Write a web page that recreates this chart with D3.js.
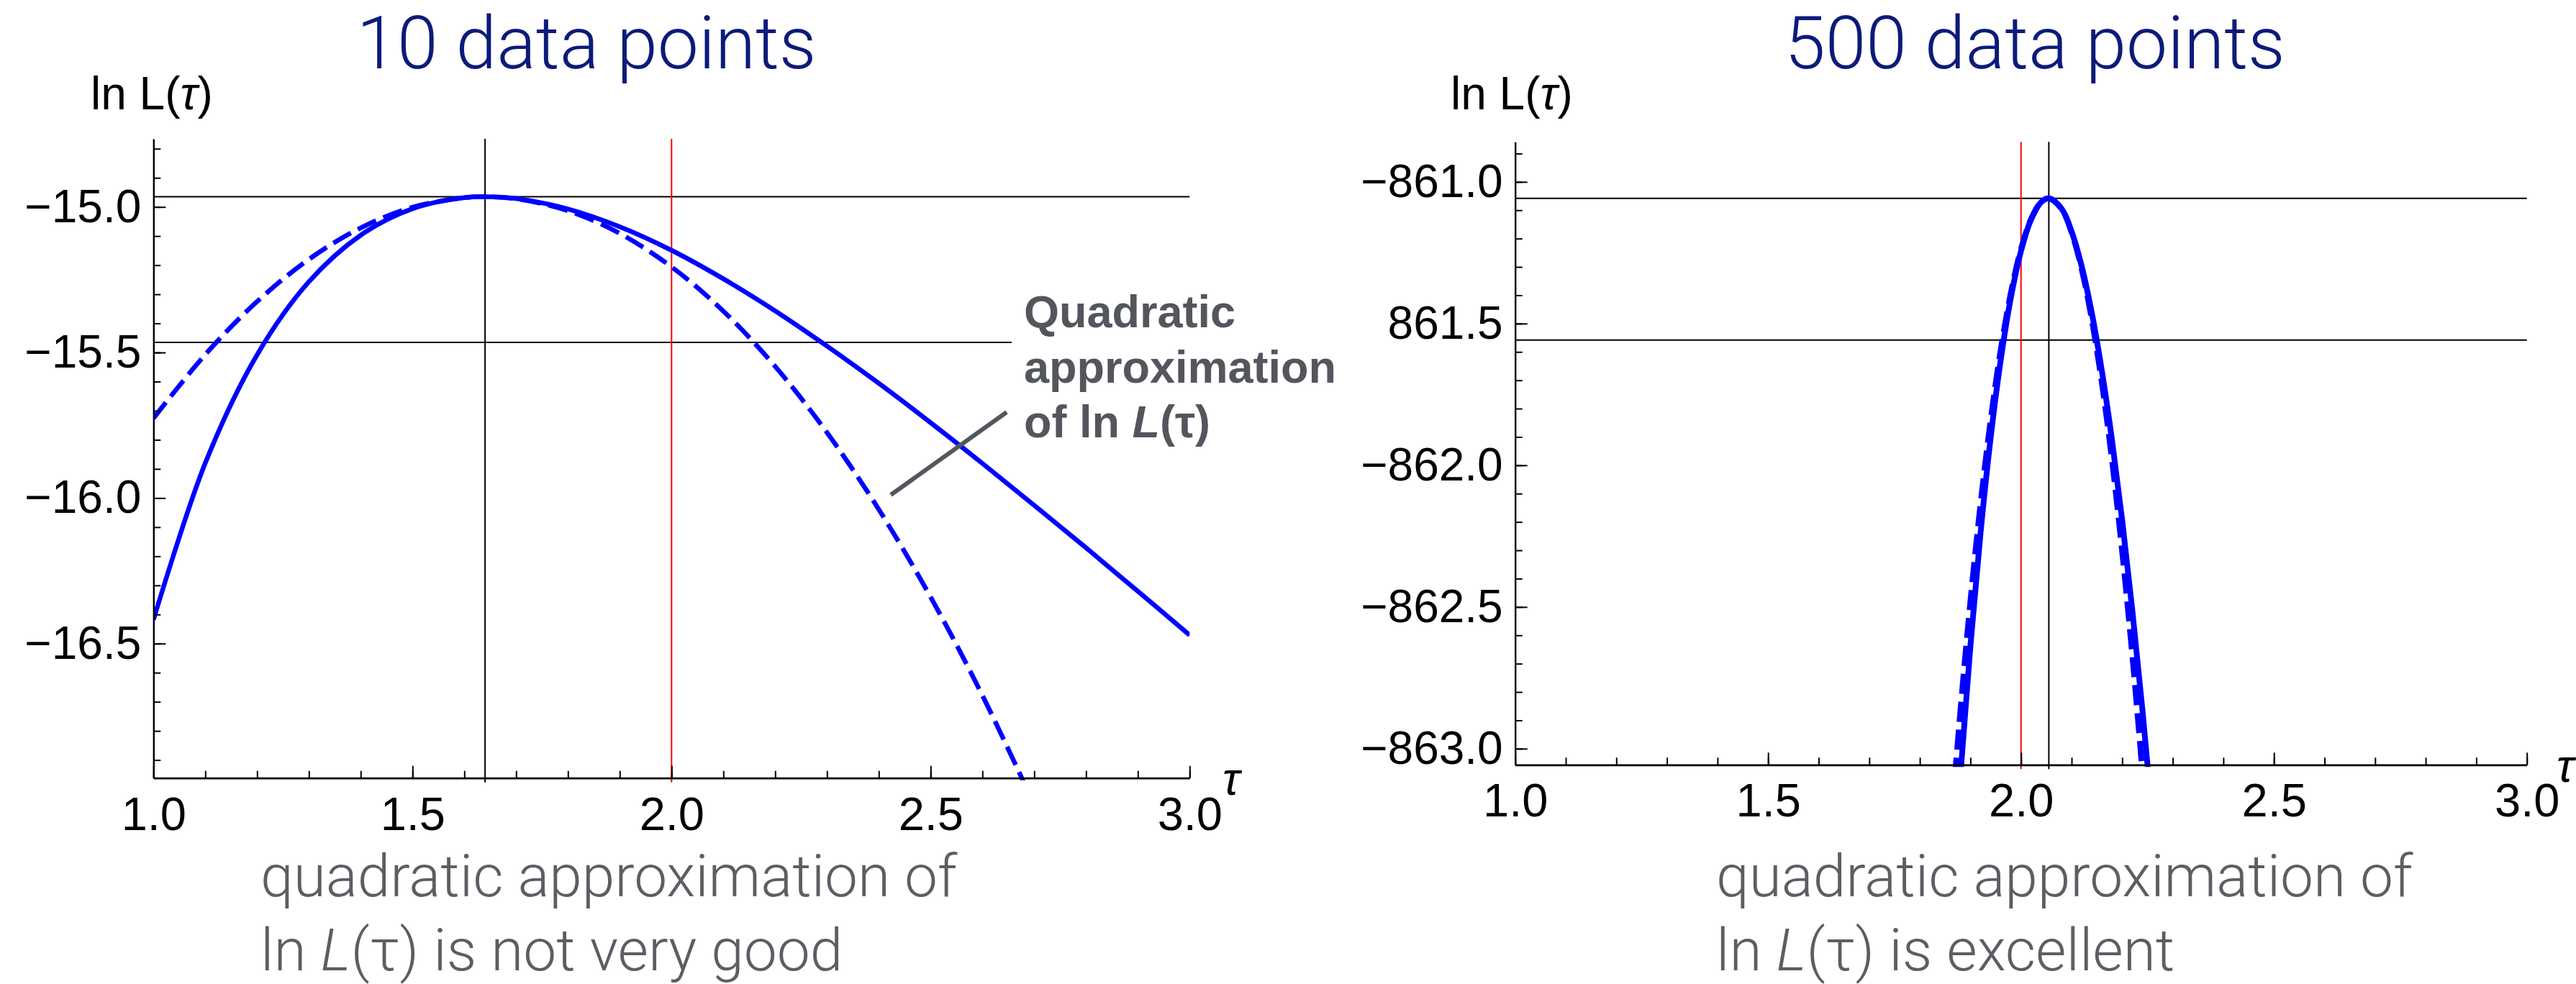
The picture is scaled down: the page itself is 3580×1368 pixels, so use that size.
<!DOCTYPE html>
<html>
<head>
<meta charset="utf-8">
<script src="https://d3js.org/d3.v7.min.js"></script>
<style>
  body { margin: 0; background: #fff; }
  .axis text { font-family: "Liberation Sans", Arial, sans-serif; font-size: 64px; fill: #000; }
  .axis path, .axis line { stroke: #000; }
  .title { font-family: Roboto, "Liberation Sans", sans-serif; font-weight: 300; font-size: 102px; fill: #0c1a7a; }
  .caption { font-family: Roboto, "Liberation Sans", sans-serif; font-weight: 300; font-size: 82px; fill: #5b5e63; }
  .ylab { font-family: "Liberation Sans", Arial, sans-serif; font-size: 64px; fill: #000; }
  .note { font-family: "Liberation Sans", Arial, sans-serif; font-weight: bold; font-size: 63px; fill: #53565c; }
</style>
</head>
<body>
<svg id="chart" width="3580" height="1368"></svg>
<script>
// ---- data ----
// 10 data points
const tau10 = [1.0, 1.1, 1.2, 1.3, 1.4, 1.5, 1.6, 1.64, 1.7, 1.8, 1.9, 2.0, 2.1, 2.2, 2.3, 2.4, 2.5, 2.6, 2.7, 2.8, 2.9, 3.0];
const lnL10 = [-16.418, -15.880, -15.508, -15.257, -15.097, -15.006, -14.968, -14.965, -14.971, -15.007, -15.068,
               -15.149, -15.247, -15.357, -15.478, -15.606, -15.741, -15.881, -16.025, -16.171, -16.320, -16.471];
const tauQ10 = [1.0, 1.1, 1.2, 1.3, 1.4, 1.5, 1.6, 1.64, 1.7, 1.8, 1.9, 2.0, 2.1, 2.2, 2.3, 2.4, 2.5, 2.6, 2.7];
const quad10 = [-15.726, -15.507, -15.325, -15.180, -15.072, -15.001, -14.968, -14.965, -14.972, -15.013,
                -15.091, -15.206, -15.358, -15.548, -15.775, -16.039, -16.340, -16.678, -17.054];
const hLines10 = [-14.965, -15.465];
const tauHat10 = 1.64;

// 500 data points
const tau500 = [1.84, 1.86, 1.88, 1.90, 1.92, 1.94, 1.96, 1.98, 2.00, 2.02, 2.04, 2.055,
                2.08, 2.10, 2.12, 2.14, 2.16, 2.18, 2.20, 2.22, 2.24, 2.26, 2.28];
const lnL500 = [-864.226, -863.627, -863.099, -862.637, -862.239, -861.903, -861.627, -861.408, -861.244, -861.132,
                -861.071, -861.058, -861.094, -861.175, -861.298, -861.463, -861.669, -861.913, -862.194, -862.511,
                -862.863, -863.249, -863.666];
const quad500 = [-863.794, -863.309, -862.871, -862.480, -862.137, -861.841, -861.592, -861.391, -861.237, -861.131,
                 -861.071, -861.058, -861.095, -861.178, -861.308, -861.486, -861.711, -861.983, -862.305, -862.670,
                 -863.084, -863.546, -864.055];
const hLines500 = [-861.058, -861.558];
const tauHat500 = 2.055;
const tauTrue = 2.0;

// ticks
const xMajor = [1.0, 1.5, 2.0, 2.5, 3.0];
const xLabels = ["1.0", "1.5", "2.0", "2.5", "3.0"];
const yMajor10 = [-15.0, -15.5, -16.0, -16.5];
const yLabels10 = ["\u221215.0", "\u221215.5", "\u221216.0", "\u221216.5"];
const yMajor500 = [-861.0, -861.5, -862.0, -862.5, -863.0];
const yLabels500 = ["\u2212861.0", "861.5", "\u2212862.0", "\u2212862.5", "\u2212863.0"];

const svg = d3.select("#chart");

function panel(opt) {
    var x = d3.scaleLinear().domain([1, 3]).range(opt.xr);
    var y = d3.scaleLinear().domain(opt.yd).range(opt.yr);
    var g = svg.append("g");

    g.append("clipPath").attr("id", opt.id)
        .append("rect")
        .attr("x", opt.xr[0]).attr("y", opt.yr[1])
        .attr("width", opt.xr[1] - opt.xr[0]).attr("height", opt.yr[0] - opt.yr[1] + 3);

    // reference lines
    opt.hLines.forEach((v, i) => {
        g.append("line")
            .attr("x1", opt.xr[0]).attr("x2", i == 0 ? opt.xr[1] : opt.h2end)
            .attr("y1", y(v)).attr("y2", y(v))
            .attr("stroke", "#000").attr("stroke-width", 2);
    });
    [[opt.tauHat, "#000"], [tauTrue, "#ff0000"]].forEach(d => {
        g.append("line")
            .attr("x1", x(d[0])).attr("x2", x(d[0]))
            .attr("y1", opt.yr[1]).attr("y2", opt.yr[0] + 6)
            .attr("stroke", d[1]).attr("stroke-width", 2);
    });

    // curves
    var line = d3.line().x(d => x(d[0])).y(d => y(d[1])).curve(d3.curveCatmullRom);
    g.append("path")
        .datum(d3.zip(opt.tau, opt.lnL))
        .attr("d", line)
        .attr("clip-path", "url(#" + opt.id + ")")
        .attr("fill", "none").attr("stroke", "#0000ff").attr("stroke-width", opt.lw);
    g.append("path")
        .datum(d3.zip(opt.tauQ, opt.quad))
        .attr("d", line)
        .attr("clip-path", "url(#" + opt.id + ")")
        .attr("fill", "none").attr("stroke", "#0000ff").attr("stroke-width", opt.lw)
        .attr("stroke-dasharray", "28,11");

    // y axis
    var yMinor = d3.range(Math.ceil(opt.yd[0] * 10), Math.floor(opt.yd[1] * 10) + 1).map(v => v / 10);
    g.append("g").attr("class", "axis")
        .attr("transform", "translate(" + opt.xr[0] + ",0)")
        .call(d3.axisLeft(y).tickValues(yMinor).tickSize(-10).tickSizeOuter(0).tickFormat(""))
        .call(a => a.selectAll("line").attr("stroke-width", 2))
        .call(a => a.select(".domain").attr("stroke-width", 2.4));
    g.append("g").attr("class", "axis")
        .attr("transform", "translate(" + opt.xr[0] + ",0)")
        .call(d3.axisLeft(y).tickValues(opt.yMajor).tickSize(-17).tickSizeOuter(0).tickPadding(17)
            .tickFormat((d, i) => opt.yLabels[i]))
        .call(a => a.select(".domain").remove())
        .call(a => a.selectAll("line").attr("stroke-width", 2));

    // x axis
    var xMinor = d3.range(10, 31).map(v => v / 10);
    g.append("g").attr("class", "axis")
        .attr("transform", "translate(0," + opt.yr[0] + ")")
        .call(d3.axisBottom(x).tickValues(xMinor).tickSize(-10).tickSizeOuter(0).tickFormat(""))
        .call(a => a.selectAll("line").attr("stroke-width", 2))
        .call(a => a.select(".domain").attr("stroke-width", 2.8));
    g.append("g").attr("class", "axis")
        .attr("transform", "translate(0," + opt.yr[0] + ")")
        .call(d3.axisBottom(x).tickValues(xMajor).tickSize(-17).tickSizeOuter(0).tickPadding(26)
            .tickFormat((d, i) => xLabels[i]))
        .call(a => a.select(".domain").remove())
        .call(a => a.selectAll("line").attr("stroke-width", 2))
        .call(a => a.selectAll("text").style("font-size", "65px"));

    // axis labels
    g.append("text").attr("class", "ylab")
        .attr("x", opt.tauLab[0]).attr("y", opt.tauLab[1])
        .style("font-style", "italic").text("\u03c4");
    var yl = g.append("text").attr("class", "ylab")
        .attr("x", opt.yLab[0]).attr("y", opt.yLab[1]);
    yl.append("tspan").text("ln L(");
    yl.append("tspan").style("font-style", "italic").text("\u03c4");
    yl.append("tspan").text(")");

    // title
    g.append("text").attr("class", "title")
        .attr("x", opt.titleX).attr("y", 95)
        .attr("text-anchor", "middle")
        .text(opt.title);

    // caption
    g.append("text").attr("class", "caption")
        .attr("x", opt.capX).attr("y", 1246).text("quadratic approximation of");
    var c2 = g.append("text").attr("class", "caption")
        .attr("x", opt.capX).attr("y", 1349);
    c2.append("tspan").text("ln ");
    c2.append("tspan").style("font-style", "italic").text("L");
    c2.append("tspan").text("(\u03c4) " + opt.verdict);
}

panel({
    id: "clip10", title: "10 data points", titleX: 815,
    xr: [213.3, 1653.3], yd: [-16.962, -14.766], yr: [1081.7, 193],
    tau: tau10, lnL: lnL10, tauQ: tauQ10, quad: quad10, lw: 6.5,
    hLines: hLines10, h2end: 1406, tauHat: tauHat10,
    yMajor: yMajor10, yLabels: yLabels10,
    tauLab: [1699, 1105], yLab: [126, 152],
    capX: 362, verdict: "is not very good"
});

panel({
    id: "clip500", title: "500 data points", titleX: 2828,
    xr: [2105.7, 3511.7], yd: [-863.057, -860.859], yr: [1063.3, 197.3],
    tau: tau500, lnL: lnL500, tauQ: tau500, quad: quad500, lw: 8,
    hLines: hLines500, h2end: 3511.7, tauHat: tauHat500,
    yMajor: yMajor500, yLabels: yLabels500,
    tauLab: [3553, 1087], yLab: [2016, 152],
    capX: 2385, verdict: "is excellent"
});

// annotation in the left panel
var note = svg.append("text").attr("class", "note").attr("x", 1423);
note.append("tspan").attr("x", 1423).attr("y", 455).text("Quadratic");
note.append("tspan").attr("x", 1423).attr("y", 532).text("approximation");
note.append("tspan").attr("x", 1423).attr("y", 608).text("of ln ");
note.append("tspan").style("font-style", "italic").text("L");
note.append("tspan").text("(\u03c4)");

svg.append("line")
    .attr("x1", 1399).attr("y1", 573)
    .attr("x2", 1238).attr("y2", 688)
    .attr("stroke", "#53565c").attr("stroke-width", 6);
</script>
</body>
</html>
